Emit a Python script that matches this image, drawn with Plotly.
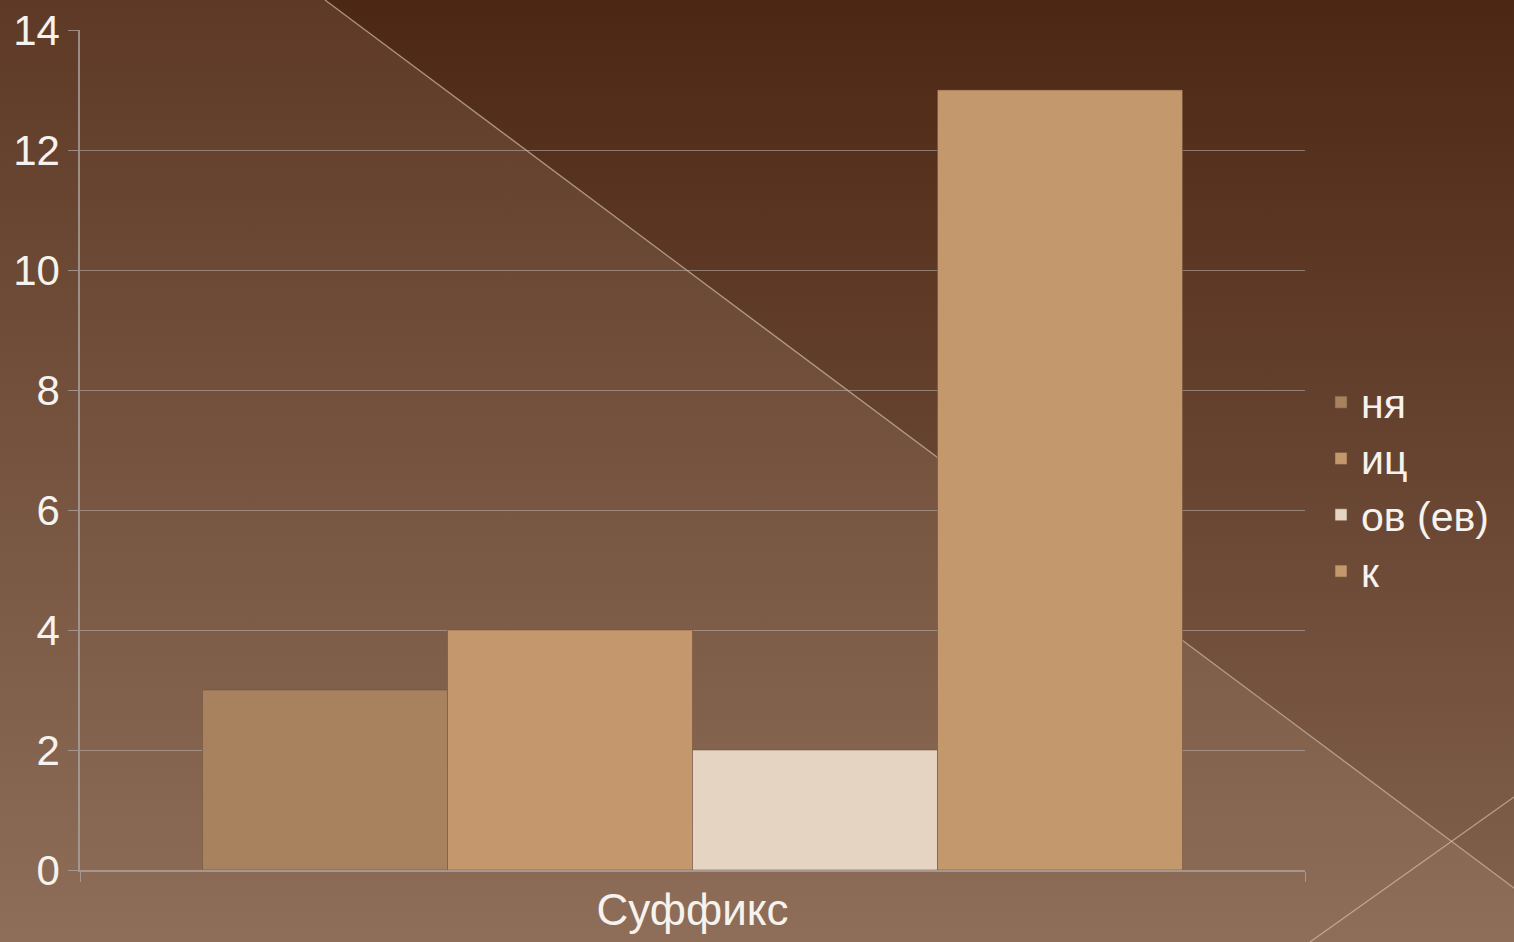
import plotly.graph_objects as go

# chart data
category = ["Суффикс"]
series_names = ["ня", "иц", "ов (ев)", "к"]
series_values = [3, 4, 2, 13]
series_colors = ["#A8825E", "#C4986C", "#E5D4C1", "#C3986C"]

y_ticks = [0, 2, 4, 6, 8, 10, 12, 14]

W, H = 1514, 942

fig = go.Figure()

# slide background: two gradient areas split by a diagonal line (pixel space, y up)
fig.add_trace(go.Scatter(
    x=[0, 325, 1514, 1514, 0, 0], y=[H, H, H - 888, 0, 0, H],
    fill="toself", mode="none", hoverinfo="skip", showlegend=False,
    fillgradient=dict(type="vertical", start=0, stop=H,
                      colorscale=[[0, "#8E6E59"], [1, "#5E3A26"]]),
    xaxis="x", yaxis="y"))
fig.add_trace(go.Scatter(
    x=[325, 1514, 1514, 325], y=[H, H, H - 888, H],
    fill="toself", mode="none", hoverinfo="skip", showlegend=False,
    fillgradient=dict(type="vertical", start=0, stop=H,
                      colorscale=[[0, "#83624E"], [1, "#4C2714"]]),
    xaxis="x", yaxis="y"))
fig.add_trace(go.Scatter(
    x=[325, 1514], y=[H, H - 888], mode="lines", hoverinfo="skip", showlegend=False,
    line=dict(color="rgba(215,195,180,0.65)", width=1.3), xaxis="x", yaxis="y"))
fig.add_trace(go.Scatter(
    x=[1310, 1514], y=[0, H - 797], mode="lines", hoverinfo="skip", showlegend=False,
    line=dict(color="rgba(215,195,180,0.65)", width=1.3), xaxis="x", yaxis="y"))

for name, val, col in zip(series_names, series_values, series_colors):
    fig.add_trace(go.Bar(
        x=category, y=[val], name=name, marker_color=col,
        marker_line=dict(color="rgba(110,80,60,0.55)", width=1),
        xaxis="x2", yaxis="y2"))

axis_col = "rgba(175,165,160,0.75)"
fig.update_layout(
    width=W, height=H,
    margin=dict(l=0, r=0, t=0, b=0),
    paper_bgcolor="#6E4A34",
    plot_bgcolor="rgba(0,0,0,0)",
    barmode="group", bargap=0.2, bargroupgap=0,
    font=dict(family="Liberation Sans, Arial, sans-serif", color="#F6F2EE"),
    xaxis=dict(domain=[0, 1], range=[0, W], visible=False, fixedrange=True),
    yaxis=dict(domain=[0, 1], range=[0, H], visible=False, fixedrange=True),
    xaxis2=dict(domain=[80 / W, 1305 / W], anchor="y2",
                showgrid=False, showline=True, linecolor=axis_col, linewidth=1.5,
                ticks="outside", tickson="boundaries", ticklen=10, tickcolor=axis_col,
                tickfont=dict(size=44), automargin=False),
    yaxis2=dict(domain=[1 - 870 / H, 1 - 30 / H], anchor="x2", range=[0, 14],
                tickvals=y_ticks, showgrid=True, gridcolor="rgba(190,180,175,0.55)",
                gridwidth=1, showline=True, linecolor=axis_col, linewidth=1.5,
                ticks="outside", ticklen=10, tickcolor=axis_col, zeroline=False,
                tickfont=dict(size=42), automargin=False),
    legend=dict(x=1321 / W, y=1 - 487 / H, xanchor="left", yanchor="middle",
                bgcolor="rgba(0,0,0,0)", font=dict(size=41, color="#F6F2EE"),
                itemclick=False, tracegroupgap=0),
    showlegend=True,
)

# page has a default 8px body margin; drop it so the slide fills the window
fig.write_html("out.html", config={"displayModeBar": False},
               post_script="document.body.style.margin='0';")
